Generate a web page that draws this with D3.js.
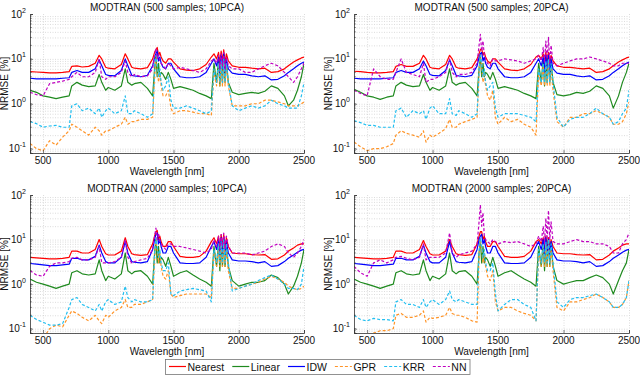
<!DOCTYPE html>
<html>
  <head>
    <meta charset="utf-8">
    <script src="https://d3js.org/d3.v7.min.js"></script>
    <style>
      body { margin: 0px; background: #fff; }
      text { font-family: Arial, 'Liberation Sans', sans-serif; fill: #111; }
      .title, .axis-label { font-size: 10px; }
      .tick-label { font-size: 10px; }
      .legend text { font-size: 10.5px; }
    </style>
  </head>
  <body>
    <script>
      // wavelength grid [nm]
      const wl = [400,450,500,550,600,650,700,720,760,800,850,900,930,950,980,1000,1050,1100,1130,1150,
        1180,1200,1250,1300,1340,1355,1365,1375,1385,1395,1405,1420,1440,1460,1480,1500,1550,1600,1650,1700,
        1750,1790,1810,1830,1845,1855,1865,1875,1885,1895,1905,1920,1950,2000,2050,2100,2150,2200,2250,2300,
        2350,2380,2420,2450,2480,2500];

      // MODTRAN 500 samples, 10 PCA
      const nearest_500_10 = [5.2,5.1,5.0,4.9,4.9,5.0,5.2,6.8,7.0,6.6, 6.8,8.0,12,10,6.5,6.2,6.0,7.5,13,10,
        6.5,6.2,6.0,6.4,10,14,16,18,12,14, 11,9,8,10,10,8.5,6.0,5.6,5.5,6.0, 7.5,11,13,10,14,8,15,9,16,8,
        13,9,7,6.5,6.5,6.2,6.0,6.2,5.0,5.2, 6.0,7.0,8.5,9.5,10.5,11];
      const linear_500_10 = [2.0,1.8,1.5,1.4,1.3,1.4,1.5,2.5,3.0,2.6, 2.4,2.5,4.5,3.0,2.0,2.3,2.0,2.5,6.0,3.0,
        2.6,2.8,3.0,2.2,1.5,6,12,4,8,4, 5,4.5,3.5,5,3.5,2.2,2.4,2.2,2.0,1.7, 1.5,1.3,8,3,10,2.5,9,3,12,3,
        9,3,1.8,1.6,1.7,1.8,1.7,1.9,2.5,2.2, 1.5,0.9,1.2,2.0,4.0,8.0];
      const idw_500_10 = [3.7,3.6,3.6,3.6,3.6,3.7,3.8,5.0,5.5,5.0, 5.0,6.0,9.5,7.0,4.5,4.3,4.2,5.5,10,7.0,
        4.3,4.2,4.0,4.3,7.0,11,13,15,9,11, 8,6.5,6,8,8,6,4,3.8,3.8,4, 5,8,10,7,11,5,12,6,13,5,
        10,6,4.8,4.5,4.5,4.2,4.0,4.2,3.4,3.5, 4.2,5,6,7,8,8.5];
      const gpr_500_10 = [0.13,0.10,0.09,0.15,0.12,0.18,0.25,0.35,0.30,0.25, 0.20,0.30,0.25,0.20,0.25,0.25,0.30,0.35,0.50,0.35,
        0.40,0.40,0.45,0.45,0.50,4,10,6,3,5, 2.5,1.5,1.5,2,0.8,0.6,0.7,0.7,0.65,0.6, 0.6,0.55,5,2.5,7,2.5,8,2.5,9,2.5,
        7,2.5,0.9,0.9,0.9,1.0,1.0,1.2,1.2,1.1, 1.0,0.9,0.9,0.9,1.0,1.1];
      const krr_500_10 = [0.40,0.36,0.30,0.32,0.33,0.30,0.30,0.90,1.0,0.70, 0.80,0.60,0.80,0.50,0.70,0.80,0.60,0.70,1.5,0.60,
        0.60,0.70,0.60,0.50,0.60,5,12,8,4,6, 3,2,2.5,4,1.2,0.8,0.8,0.9,0.8,0.7, 0.6,0.7,6,3,8,3,9,3,10,3,
        8,3,0.9,0.7,0.8,0.9,0.8,0.9,1.2,1.0, 0.9,0.8,0.8,0.8,1.5,3.0];
      const nn_500_10 = [1.8,1.6,1.5,2.8,3.0,3.2,3.5,4.0,5.0,4.0, 4.0,5.0,10,4.0,3.5,4.0,4.0,5.0,9.0,5.0,
        4.0,4.5,4.0,4.2,6,12,17,10,13,9, 8,7,6,8,7,6,6.5,6,5.5,5, 6,9,10,8,12,6,13,7,14,6,
        11,7,6,6,5,5,6,7,8,7, 5,4,3,4,6,8];

      // MODTRAN 500 samples, 20 PCA
      const nearest_500_20 = [5.3,5.2,5.0,4.9,4.9,5.0,5.2,6.8,7.5,6.8, 6.8,8.0,12,10,6.5,6.2,6.0,7.5,12,10,
        6.5,6.2,6.0,6.4,10,13,16,17,12,14, 11,9,8,10,10,8.5,6.0,5.6,5.5,6.0, 7.5,11,12,10,13,8,14,9,14,8,
        12,9,7,6.5,6.5,6.2,6.0,6.2,5.0,5.2, 6.0,7.0,8.5,9.5,10.5,11];
      const linear_500_20 = [2.1,1.8,1.5,1.4,1.25,1.4,1.5,2.5,3.0,2.6, 2.4,2.5,4.5,3.0,2.0,2.3,2.0,2.5,6.0,3.0,
        2.6,2.8,3.0,2.2,1.5,6,12,4,8,4, 5,4.5,3.5,5,3.5,2.2,2.4,2.2,2.0,1.7, 1.5,1.3,8,3,10,2.5,9,3,12,3,
        9,3,1.6,1.5,1.6,1.8,1.7,1.9,2.5,2.2, 1.5,0.8,1.5,3.0,5.0,8.0];
      const idw_500_20 = [3.7,3.6,3.6,3.6,3.6,3.7,3.8,5.0,5.5,5.0, 5.0,6.0,9.0,7.0,4.5,4.3,4.2,5.5,9.5,7.0,
        4.3,4.2,4.0,4.3,7.0,11,13,14,9,11, 8,6.5,6,8,8,6,4,3.8,3.8,4, 5,8,10,7,11,5,12,6,12,5,
        10,6,4.8,4.5,4.5,4.2,4.0,4.2,3.4,3.5, 4.2,5,6,7,8,8.5];
      const gpr_500_20 = [0.14,0.11,0.09,0.10,0.10,0.11,0.13,0.20,0.25,0.22, 0.20,0.18,0.25,0.14,0.20,0.18,0.22,0.28,0.45,0.30,
        0.30,0.35,0.40,0.45,0.50,5,12,7,3,5, 2.5,1.5,1.2,2,0.5,0.35,0.5,0.4,0.45,0.35, 0.3,0.2,5,2.5,7,2.5,8,2.5,9,2.5,
        6,2,0.4,0.3,0.5,0.5,0.6,0.6,0.7,0.6, 0.5,0.35,0.35,0.4,0.6,1.1];
      const krr_500_20 = [0.42,0.38,0.33,0.33,0.30,0.30,0.30,0.70,0.80,0.50, 0.70,0.60,0.70,0.45,0.80,0.90,0.60,0.60,1.3,0.60,
        0.55,0.70,0.60,0.50,0.60,5,12,8,4,6, 3,2,2.5,3,0.8,0.5,0.6,0.6,0.6,0.55, 0.5,0.4,6,3,8,3,9,3,10,3,
        8,3,0.5,0.3,0.45,0.5,0.5,0.6,0.8,0.6, 0.5,0.35,0.4,0.6,0.8,2.0];
      const nn_500_20 = [2.0,1.7,1.5,6.0,4.0,3.5,3.5,5.0,10,5.0, 4.5,4.0,8,3.0,3.5,3.5,4.0,5.0,10,5.0,
        4.0,4.5,4.5,5.0,8,20,35,15,25,12, 10,8,7,10,9,9,10,9.5,9,8, 9,10,12,9,18,8,25,10,30,8,
        20,8,7,8,9,10,10,11,10,9, 8,7,7,8,8,8];

      // MODTRAN 2000 samples, 10 PCA
      const nearest_2000_10 = [4.0,3.9,3.8,3.7,3.7,3.8,4.0,5.5,5.5,5.0, 5.0,6.0,10,7.0,4.8,4.5,4.5,5.5,11,7.0,
        4.8,4.6,4.4,4.6,8,12,15,16,10,12, 9,7,7,9,9,7,4.2,4.0,4.0,4.2, 5.5,9,11,8,12,6,13,7,13,6,
        11,7,5,4.8,4.8,4.6,4.5,4.6,3.6,3.7, 4.5,5.5,6.5,7.5,8,8];
      const linear_2000_10 = [1.3,1.1,1.0,0.9,0.8,0.9,1.0,1.8,2.0,1.7, 1.6,1.7,3.5,2.0,1.2,1.5,1.3,1.7,5,2.0,
        1.7,1.9,2.0,1.5,1.0,5,10,3,7,3, 4,3.5,2.5,4,2.5,1.5,1.8,2.0,1.6,1.3, 1.1,0.9,7,2.5,9,2,8,2.5,10,2.5,
        8,2.5,1.2,0.9,1.0,1.1,1.1,1.2,1.6,1.4, 1.0,0.6,0.9,1.5,3.0,6.0];
      const idw_2000_10 = [2.9,2.8,2.7,2.6,2.6,2.7,2.8,3.8,3.8,3.5, 3.5,4.2,7.5,5.0,3.2,3.0,3.0,4.0,9,5.0,
        3.2,3.1,3.0,3.2,6,10,13,14,8,10, 7,5,5,7,7,5,3.0,2.9,2.9,3.0, 4,7,9,6,10,4.5,11,5,11,4.5,
        9,5,3.5,3.3,3.3,3.2,3.0,3.2,2.5,2.6, 3.2,3.8,4.5,5.2,5.8,6.0];
      const gpr_2000_10 = [0.08,0.07,0.06,0.10,0.12,0.11,0.20,0.25,0.22,0.18, 0.15,0.20,0.15,0.13,0.20,0.18,0.25,0.30,0.45,0.30,
        0.30,0.35,0.35,0.40,0.45,4,9,6,3,5, 2.5,1.5,1.3,2,0.6,0.5,0.55,0.6,0.6,0.6, 0.6,0.5,5,2.5,7,2.5,8,2.5,9,2.5,
        6,2,0.8,0.8,0.9,1.0,1.1,1.3,1.5,1.3, 1.1,0.9,0.8,0.75,0.8,0.9];
      const krr_2000_10 = [0.20,0.16,0.14,0.12,0.12,0.13,0.30,0.45,0.50,0.35, 0.30,0.25,0.35,0.25,0.40,0.45,0.35,0.40,0.9,0.50,
        0.40,0.45,0.40,0.40,0.45,5,11,7,4,6, 3,2,2,3,0.6,0.55,0.7,0.75,0.8,0.75, 0.7,0.4,6,3,8,3,9,3,10,3,
        8,3,0.7,0.8,0.9,1.0,1.2,1.4,1.6,1.3, 1.0,0.8,0.8,0.75,1.0,2.5];
      const nn_2000_10 = [2.0,1.6,1.5,2.5,3.0,3.0,3.2,3.8,4.0,3.5, 3.5,4.0,7,3.0,3.0,3.0,3.2,4.0,10,4.0,
        3.0,3.2,3.5,3.8,6,12,18,10,14,9, 8,7,6,8,8,7,7,6.5,6,5.5, 5,6,10,7,12,6,13,7,14,6,
        12,7,5,5,5,4.5,5,5.5,7,8, 7,5,4,5,7,10];

      // MODTRAN 2000 samples, 20 PCA
      const nearest_2000_20 = [4.0,3.9,3.8,3.7,3.7,3.8,4.0,5.5,5.5,5.0, 5.0,6.0,9.5,7.0,4.8,4.5,4.5,5.5,10,7.0,
        4.8,4.6,4.4,4.6,8,12,15,15,10,12, 9,7,7,9,9,7,4.2,4.0,4.0,4.2, 5.5,9,10,8,11,6,12,7,11,6,
        10,7,5,4.8,4.8,4.6,4.5,4.6,3.5,3.6, 4.5,5.5,6.5,7.5,8,8];
      const linear_2000_20 = [1.3,1.1,1.0,0.9,0.8,0.9,1.0,1.8,2.0,1.7, 1.6,1.7,3.5,2.0,1.2,1.5,1.3,1.7,5,2.0,
        1.7,1.9,2.0,1.5,1.0,5,10,3,7,3, 4,3.5,2.5,4,2.5,1.5,1.8,2.0,1.6,1.3, 1.1,0.9,7,2.5,9,2,8,2.5,10,2.5,
        8,2.5,1.2,1.0,1.1,1.2,1.2,1.4,1.6,1.4, 1.0,0.6,1.2,2.0,3.0,6.0];
      const idw_2000_20 = [2.9,2.8,2.7,2.6,2.6,2.7,2.8,3.8,3.8,3.5, 3.5,4.2,7.5,5.0,3.2,3.0,3.0,4.0,9,5.0,
        3.2,3.1,3.0,3.2,6,10,12,13,8,10, 7,5,5,7,7,5,3.0,2.9,2.9,3.0, 4,7,9,6,10,4.5,11,5,10,4.5,
        9,5,3.5,3.3,3.3,3.2,3.0,3.2,2.5,2.6, 3.2,3.8,4.5,5.2,5.8,6.0];
      const gpr_2000_20 = [0.08,0.07,0.07,0.08,0.09,0.09,0.10,0.20,0.22,0.18, 0.18,0.20,0.25,0.14,0.18,0.17,0.18,0.20,0.30,0.22,
        0.20,0.20,0.18,0.15,0.14,4,10,6,3,5, 2.5,1.5,1.2,2,0.4,0.25,0.3,0.3,0.25,0.22, 0.2,0.15,5,2.5,7,2.5,8,2.5,9,2.5,
        6,2,0.3,0.25,0.4,0.4,0.45,0.5,0.6,0.5, 0.4,0.3,0.3,0.35,0.5,1.2];
      const krr_2000_20 = [0.20,0.16,0.15,0.17,0.16,0.16,0.15,0.40,0.45,0.35, 0.35,0.30,0.45,0.30,0.40,0.45,0.35,0.45,0.7,0.45,
        0.40,0.45,0.40,0.35,0.35,5,11,7,4,6, 3,2,2,3,0.6,0.25,0.35,0.45,0.45,0.35, 0.3,0.15,6,3,8,3,9,3,10,3,
        8,3,0.4,0.3,0.45,0.5,0.5,0.55,0.6,0.5, 0.4,0.3,0.3,0.35,0.5,1.2];
      const nn_2000_20 = [2.5,1.8,1.5,3.0,3.5,3.0,3.5,4.0,4.2,3.8, 3.5,4.0,8,3.5,4.0,4.0,4.0,5.0,14,5.0,
        4.0,4.5,5.0,5.5,8,25,60,20,40,12, 10,9,8,10,9,8,9,8.5,9,8, 7,8,12,9,20,8,30,10,45,10,
        25,9,8,8,9,10,9,9,8,8, 7,5,5,8,10,14];

      const methods = ['Nearest', 'Linear', 'IDW', 'GPR', 'KRR', 'NN'];
      const colors = ['#ff0000', '#1f8a1f', '#0000ff', '#ff9428', '#22bff0', '#c000c0'];
      const dashes = [null, null, null, '3,2', '3,2', '3,2'];
      const xTicks = [500, 1000, 1500, 2000, 2500];
      const yTicks = [0.1, 1, 10, 100];

      const panels = [
        { title: 'MODTRAN (500 samples; 10PCA)', left: 30, top: 14, w: 274, h: 139,
          series: [nearest_500_10, linear_500_10, idw_500_10, gpr_500_10, krr_500_10, nn_500_10] },
        { title: 'MODTRAN (500 samples; 20PCA)', left: 354, top: 14, w: 275, h: 139,
          series: [nearest_500_20, linear_500_20, idw_500_20, gpr_500_20, krr_500_20, nn_500_20] },
        { title: 'MODTRAN (2000 samples; 10PCA)', left: 30, top: 195, w: 274, h: 138,
          series: [nearest_2000_10, linear_2000_10, idw_2000_10, gpr_2000_10, krr_2000_10, nn_2000_10] },
        { title: 'MODTRAN (2000 samples; 20PCA)', left: 354, top: 195, w: 275, h: 138,
          series: [nearest_2000_20, linear_2000_20, idw_2000_20, gpr_2000_20, krr_2000_20, nn_2000_20] }
      ];

      const svg = d3.select('body').append('svg')
        .attr('width', 640)
        .attr('height', 375);

      // minor log ticks 2..9 per decade
      const minorY = [];
      [0.01, 0.1, 1, 10].forEach(d => { for (let k = 1; k <= 9; k++) minorY.push(d * k); });

      panels.forEach((p, pi) => {
        const xScale = d3.scaleLinear().domain([400, 2500]).range([0, p.w]);
        const yScale = d3.scaleLog().domain([0.08, 100]).range([p.h, 0]);
        const g = svg.append('g').attr('transform', `translate(${p.left},${p.top})`);

        // grid
        const gridY = minorY.filter(v => v >= 0.08 && v <= 100);
        g.selectAll('.gy').data(gridY).enter().append('line')
          .attr('x1', 0).attr('x2', p.w)
          .attr('y1', d => yScale(d) + 0.5).attr('y2', d => yScale(d) + 0.5)
          .attr('stroke', '#c4c4c4').attr('stroke-width', 0.6)
          .attr('stroke-dasharray', '1,1.5');
        g.selectAll('.gx').data(xTicks).enter().append('line')
          .attr('y1', 0).attr('y2', p.h)
          .attr('x1', d => xScale(d) + 0.5).attr('x2', d => xScale(d) + 0.5)
          .attr('stroke', '#c4c4c4').attr('stroke-width', 0.6)
          .attr('stroke-dasharray', '1,1.5');

        // lines
        const clipId = 'clip' + pi;
        g.append('clipPath').attr('id', clipId)
          .append('rect').attr('width', p.w).attr('height', p.h);
        const line = d3.line()
          .x((d, i) => xScale(wl[i]))
          .y(d => yScale(d));
        p.series.forEach((s, si) => {
          g.append('path')
            .datum(s)
            .attr('clip-path', `url(#${clipId})`)
            .attr('fill', 'none')
            .attr('stroke', colors[si])
            .attr('stroke-width', 1.2)
            .attr('stroke-linejoin', 'round')
            .attr('stroke-dasharray', dashes[si])
            .attr('d', line);
        });

        // axes
        const xAxis = d3.axisBottom(xScale).tickValues(xTicks).tickSize(-3).tickFormat('');
        const xAxisG = g.append('g').attr('transform', `translate(0,${p.h})`).call(xAxis);
        const yAxis = d3.axisLeft(yScale).tickValues(yTicks).tickSize(-3).tickFormat('');
        const yAxisG = g.append('g').call(yAxis);
        yAxisG.selectAll('.minor').data(gridY).enter().append('line')
          .attr('x1', 0).attr('x2', 1.8)
          .attr('y1', d => yScale(d)).attr('y2', d => yScale(d))
          .attr('stroke', '#333').attr('stroke-width', 0.6);
        [xAxisG, yAxisG].forEach(a => {
          a.select('.domain').attr('stroke', '#333').attr('stroke-width', 0.8);
          a.selectAll('.tick line').attr('stroke', '#333').attr('stroke-width', 0.6);
        });

        // tick labels
        g.selectAll('.xl').data(xTicks).enter().append('text')
          .attr('class', 'tick-label')
          .attr('x', d => xScale(d))
          .attr('y', p.h + 11)
          .attr('text-anchor', 'middle')
          .text(d => d);
        const yl = g.selectAll('.yl').data(yTicks).enter().append('text')
          .attr('class', 'tick-label')
          .attr('x', -4)
          .attr('y', d => yScale(d) + 3.5)
          .attr('text-anchor', 'end');
        yl.append('tspan').text('10');
        yl.append('tspan')
          .attr('dy', -5)
          .style('font-size', '7px')
          .text(d => Math.round(Math.log10(d)));

        // titles
        g.append('text').attr('class', 'title')
          .attr('x', p.w / 2).attr('y', -3.5)
          .attr('text-anchor', 'middle')
          .text(p.title);
        g.append('text').attr('class', 'axis-label')
          .attr('x', p.w / 2).attr('y', p.h + 21.5)
          .attr('text-anchor', 'middle')
          .text('Wavelength [nm]');
        g.append('text').attr('class', 'axis-label')
          .attr('transform', `translate(${-22.5},${p.h / 2}) rotate(-90)`)
          .attr('text-anchor', 'middle')
          .text('NRMSE [%]');
      });

      // legend
      const legendG = svg.append('g').attr('class', 'legend');
      const box = legendG.append('rect')
        .attr('fill', '#fff').attr('stroke', '#777').attr('stroke-width', 0.8);
      let cx = 169;
      const ly = 366.5;
      methods.forEach((m, i) => {
        legendG.append('line')
          .attr('x1', cx).attr('x2', cx + 17)
          .attr('y1', ly).attr('y2', ly)
          .attr('stroke', colors[i]).attr('stroke-width', 1.2)
          .attr('stroke-dasharray', dashes[i]);
        const t = legendG.append('text')
          .attr('x', cx + 18.5).attr('y', ly + 4)
          .text(m);
        cx += 18.5 + t.node().getComputedTextLength() + 8;
      });
      box.attr('x', 165.5).attr('y', 359.5)
        .attr('width', cx - 166 - 4).attr('height', 15);
    </script>
  </body>
</html>
